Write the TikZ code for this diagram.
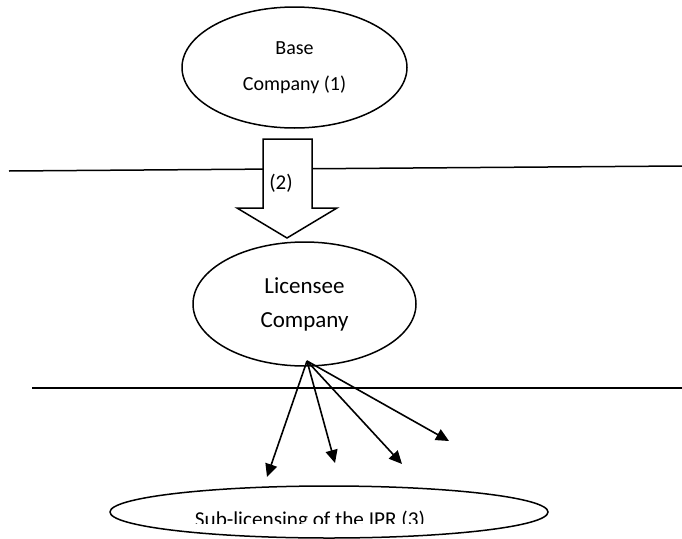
\documentclass[tikz,border=0pt]{standalone}
\usepackage{fontspec}
\setmainfont{Carlito}
\usetikzlibrary{shapes.geometric,arrows.meta}
\tikzset{
  oval/.style={draw=black, line width=1.5pt, ellipse, inner sep=0pt, align=center},
  rule/.style={draw=black, line width=1.5pt},
  lic/.style={draw=black, line width=1.6pt, -{Triangle[length=13pt,width=12pt]}},
  blockarrow/.style={draw=black, fill=white, line width=1.5pt, line join=miter}
}
\begin{document}
\begin{tikzpicture}[x=1pt,y=-1pt]
\useasboundingbox (0,0) rectangle (682,538);
% base company
\node[oval, minimum width=225pt, minimum height=121pt, font=\fontsize{20}{35.5}\selectfont] (base) at (294.5,67.5) {Base\\Company (1)};
% upper line
\coordinate (l1a) at (9,171);
\coordinate (l1b) at (682,166);
\draw[rule] (l1a) -- (l1b);
% block arrow
\draw[blockarrow] (263,139) -- (312,139) -- (312,208) -- (337,208) -- (287,238) -- (237,208) -- (263,208) -- cycle;
\node[font=\fontsize{21}{25}\selectfont, inner sep=0pt] (two) at (281,183) {(2)};
% licensee
\node[oval, minimum width=223pt, minimum height=124pt, font=\fontsize{23}{34}\selectfont] (licensee) at (304.5,304) {Licensee\\Company};
% lower line
\coordinate (l2a) at (32,388);
\coordinate (l2b) at (682,388);
\draw[rule] (l2a) -- (l2b);
% sub-licensing
\node[oval, minimum width=438pt, minimum height=52pt] (sub) at (329,512) {};
\begin{scope}
\clip (100,480) rectangle (560,523);
\node[font=\fontsize{21.2}{25}\selectfont, inner sep=0pt, anchor=base] (subtext) at (310,526) {Sub-licensing of the IPR (3)};
\end{scope}
% arrows
\coordinate (apex) at (307,361);
\coordinate (t1) at (267,477);
\coordinate (t2) at (335,463);
\coordinate (t3) at (402,464);
\coordinate (t4) at (449,441);
\draw[lic] (apex) -- (t1);
\draw[lic] (apex) -- (t2);
\draw[lic] (apex) -- (t3);
\draw[lic] (apex) -- (t4);
\end{tikzpicture}
\end{document}
